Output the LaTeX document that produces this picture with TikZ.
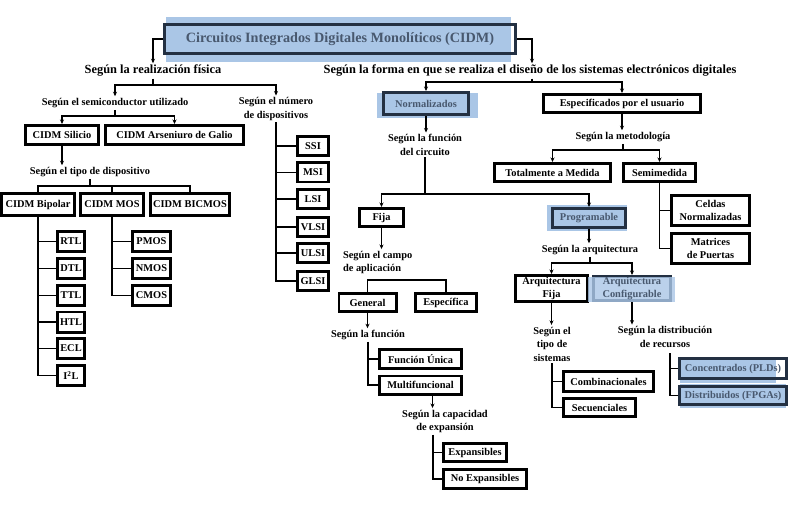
\documentclass[tikz,border=0pt]{standalone}
\usepackage{fontspec}
\setmainfont{Liberation Serif}
\usetikzlibrary{arrows.meta}
\definecolor{hlblue}{RGB}{170,198,230}
\definecolor{hlborder}{RGB}{35,48,66}
\definecolor{hltext}{RGB}{72,88,110}
\begin{document}
\begin{tikzpicture}[x=1pt,y=-1pt,
 con/.style={line width=1.3pt},
 arr/.style={con,-{Stealth[length=4.5pt,width=4pt]}},
 lbl/.style={font=\bfseries\fontsize{10.4}{13.5}\selectfont, align=center, inner sep=0.5pt, outer sep=1.5pt},
 big/.style={font=\bfseries\fontsize{12.4}{14}\selectfont, inner sep=0.5pt, outer sep=1.5pt},
 bx/.style={draw, line width=2.8pt, fill=white, inner sep=0pt, font=\bfseries\fontsize{10.4}{12}\selectfont, align=center},
 two/.style={font=\bfseries\fontsize{10.4}{13}\selectfont},
 hl/.style={bx, draw=hlborder, fill=none, text=hltext},
 sz/.style 2 args={minimum width=#1pt-2.8pt, minimum height=#2pt-2.8pt}
]
\useasboundingbox (0,0) rectangle (805,505);

% ---------- title ----------
\fill[hlblue] (166,17) rectangle (511,62);
\node[hl, sz={354}{32}, font=\bfseries\fontsize{14.2}{16}\selectfont] (title) at (340,39) {Circuitos Integrados Digitales Monolíticos (CIDM)};
\node[big] (t1) at (153,71) {Según la realización física};
\node[big] (t2) at (530,71) {Según la forma en que se realiza el diseño de los sistemas electrónicos digitales};
\draw[arr] (title.west) -| (t1.north);
\draw[arr] (title.east) -| ([xshift=2pt]t2.north);

% ---------- physical realisation ----------
\node[lbl] (t3) at (115,103) {Según el semiconductor utilizado};
\node[lbl] (t4) at (276,109) {Según el número\\de dispositivos};
\coordinate (s1) at (153,85);
\draw[con] (t1.south) -- (s1);
\draw[arr] (s1) -| (t3.north);
\draw[arr] (s1) -| (t4.north);

\node[bx, sz={76}{22}] (sil) at (62,135) {CIDM Silicio};
\node[bx, sz={141}{22}] (ars) at (174.5,135) {CIDM Arseniuro de Galio};
\coordinate (s2) at (115,116);
\draw[con] (t3.south) -- (s2);
\draw[arr] (s2) -| (sil.north);
\draw[arr] (s2) -| (ars.north);

\node[lbl] (t5) at (90,172) {Según el tipo de dispositivo};
\draw[arr] (sil.south) -- (sil.south |- t5.north);

\node[bx, sz={76}{25}] (bip) at (38,204.5) {CIDM Bipolar};
\node[bx, sz={66}{25}] (mos) at (112,204.5) {CIDM MOS};
\node[bx, sz={82}{25}] (bic) at (190,204.5) {CIDM BICMOS};
\coordinate (s3) at (90,186);
\draw[con] (t5.south) -- (s3);
\draw[con] (s3) -| (bip.north);
\draw[con] (s3) -| (mos.north);
\draw[con] (s3) -| (bic.north);

\foreach \n/\lab/\yy in {rtl/RTL/241.5, dtl/DTL/268.5, ttl/TTL/295.5, htl/HTL/322, ecl/ECL/348.5, iil/I\textsuperscript{2}L/375.5}{
  \node[bx, sz={30}{23}] (\n) at (71,\yy) {\lab};
  \draw[con] (bip.south) |- (\n.west);
}
\foreach \n/\lab/\yy in {pmos/PMOS/241.5, nmos/NMOS/268.5, cmos/CMOS/295.5}{
  \node[bx, sz={41}{23}] (\n) at (151.5,\yy) {\lab};
  \draw[con] (mos.south) |- (\n.west);
}
\foreach \n/\lab/\yy in {ssi/SSI/146, msi/MSI/172.5, lsi/LSI/199, vlsi/VLSI/227, ulsi/ULSI/253, glsi/GLSI/281}{
  \node[bx, sz={34}{22}] (\n) at (313,\yy) {\lab};
  \draw[con] (t4.south) |- (\n.west);
}

% ---------- design method ----------
\coordinate (s4) at (532,82);
\draw[con] ([xshift=2pt]t2.south) -- (s4);
\fill[hlblue] (377,93) rectangle (478,118);
\node[hl, sz={88}{25}] (norm) at (426,103.5) {Normalizados};
\node[bx, sz={160}{21}] (esp) at (622,103.5) {Especificados por el usuario};
\draw[arr] (s4) -| (norm.north);
\draw[arr] (s4) -| (esp.north);

\node[lbl] (t6) at (425,145) {Según la función\\del circuito};
\draw[arr] (norm.south) -- (norm.south |- t6.north);
\coordinate (s5) at (425,194);
\draw[con] (t6.south) -- (s5);
\node[bx, sz={47}{21}] (fija) at (381.5,217.5) {Fija};
\fill[hlblue] (547,205) rectangle (627,231);
\node[hl, sz={76}{22}] (prog) at (589,218) {Programable};
\draw[arr] (s5) -| (fija.north);
\draw[arr] (s5) -| (prog.north);

\node[lbl] (t7) at (623,137) {Según la metodología};
\draw[arr] (esp.south) -- (esp.south |- t7.north);
\coordinate (s6) at (623,150);
\draw[con] (t7.south) -- (s6);
\node[bx, sz={119}{21}] (tot) at (552.5,172.5) {Totalmente a Medida};
\node[bx, sz={75}{21}] (semi) at (659.5,172.5) {Semimedida};
\draw[arr] (s6) -| (tot.north);
\draw[arr] (s6) -| (semi.north);
\node[bx, two, sz={81}{33}] (celdas) at (710.5,210.5) {Celdas\\Normalizadas};
\node[bx, two, sz={81}{33}] (matr) at (710.5,248.5) {Matrices\\de Puertas};
\draw[con] (semi.south) |- (celdas.west);
\draw[con] (semi.south) |- (matr.west);

% fija branch
\node[lbl, align=left, anchor=west] (t8) at (341,262.5) {Según el campo\\de aplicación};
\draw[arr] (fija.south) -- (fija.south |- t8.north);
\node[bx, sz={60}{21}] (gen) at (367.5,302.5) {General};
\node[bx, sz={64}{21}] (espe) at (446,302.5) {Específica};
\coordinate (s7) at (407,280);
\draw[con] (s7) -| (gen.north);
\draw[con] (s7) -| (espe.north);

\node[lbl] (t9) at (368,335) {Según la función};
\draw[arr] (gen.south) -- (gen.south |- t9.north);
\node[bx, sz={85}{22}] (fu) at (420.5,359) {Función Única};
\node[bx, sz={85}{21}] (multi) at (420.5,385) {Multifuncional};
\draw[con] (t9.south) |- (fu.west);
\draw[con] (t9.south) |- (multi.west);

\node[lbl] (t10) at (445,421.5) {Según la capacidad\\de expansión};
\draw[arr] ([xshift=12pt]multi.south) -- ([xshift=12pt]multi.south |- t10.north);
\node[bx, sz={66}{21}] (exp) at (475,452.5) {Expansibles};
\node[bx, sz={86}{22}] (noexp) at (485,479) {No Expansibles};
\draw[con] ([xshift=-12pt]t10.south) |- (exp.west);
\draw[con] ([xshift=-12pt]t10.south) |- (noexp.west);

% programable branch
\node[lbl] (t11) at (590,250) {Según la arquitectura};
\draw[arr] (prog.south) -- (prog.south |- t11.north);
\coordinate (s8) at (590,263);
\draw[con] (t11.south) -- (s8);
\node[bx, two, sz={75}{29}] (af) at (551.5,288.5) {Arquitectura\\Fija};
\node[hl, two, sz={80}{27}] (ac) at (632,288.5) {};
\fill[hlblue, fill opacity=0.8] (588,277) rectangle (675,302);
\node[two, text=hltext, align=center, inner sep=0pt] (acl) at (ac.center) {Arquitectura\\Configurable};
\draw[arr] (s8) -| (af.north);
\draw[arr] (s8) -| (ac.north);

\node[lbl] (t12) at (552,344) {Según el\\tipo de\\sistemas};
\node[lbl] (t13) at (665,337) {Según la distribución\\de recursos};
\draw[arr] (af.south) -- (af.south |- t12.north);
\draw[arr] (ac.south) -- (ac.south |- t13.north);

\node[bx, sz={93}{23}] (comb) at (608.5,381.5) {Combinacionales};
\node[bx, sz={75}{21}] (sec) at (599.5,407.5) {Secuenciales};
\draw[con] (t12.south) |- (comb.west);
\draw[con] (t12.south) |- (sec.west);

\fill[hlblue] (680,358) rectangle (776,383);
\node[hl, sz={110}{23}] (conc) at (733,368.5) {Concentrados (PLDs)};
\fill[hlblue] (680,384) rectangle (786,408);
\node[hl, sz={110}{21}] (dist) at (733,395.5) {Distribuidos (FPGAs)};
\draw[con] ([xshift=5pt]t13.south) ++(0,4) |- (conc.west);
\draw[con] ([xshift=5pt]t13.south) ++(0,4) |- (dist.west);
\end{tikzpicture}
\end{document}
